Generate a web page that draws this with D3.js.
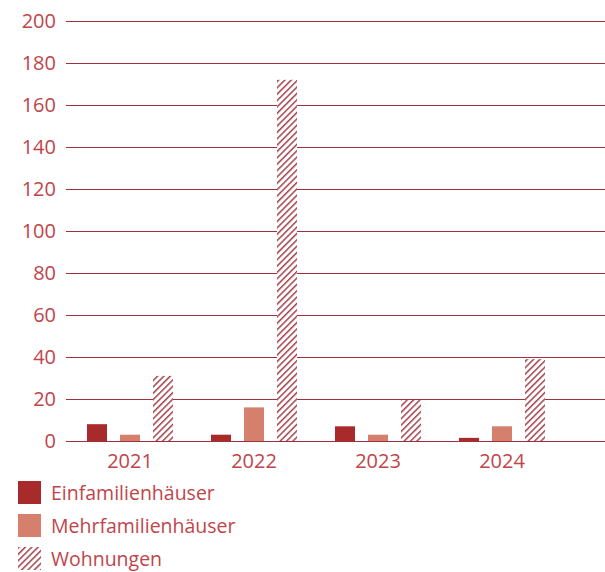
<!DOCTYPE html>
<html>
<head>
<meta charset="utf-8">
<script src="https://cdn.jsdelivr.net/npm/d3@7"></script>
<style>
  body { margin: 0; background: #fff; }
  svg text { font-family: 'Open Sans', 'Liberation Sans', Arial, sans-serif; font-weight: 400; fill: #c0454a; }
</style>
</head>
<body>
<svg id="chart" width="605" height="572"></svg>
<script>
const years = ['2021', '2022', '2023', '2024']
const seriesNames = ['Einfamilienhäuser', 'Mehrfamilienhäuser', 'Wohnungen']
const einfamilien = [8, 3, 7, 1.5]
const mehrfamilien = [3, 16, 3, 7]
const wohnungen = [31, 172, 19.5, 39]
const yTicks = [0, 20, 40, 60, 80, 100, 120, 140, 160, 180, 200]

const colors = ['#a82a2a', '#d4806c', 'url(#hatch)']
const gridColor = '#a2303a'

const svg = d3.select('#chart')

const defs = svg.append('defs')
const pat = defs.append('pattern')
  .attr('id', 'hatch')
  .attr('patternUnits', 'userSpaceOnUse')
  .attr('width', 4.5)
  .attr('height', 4.5)
  .attr('patternTransform', 'rotate(45)')
pat.append('rect').attr('width', 4.5).attr('height', 4.5).attr('fill', '#fff')
pat.append('line')
  .attr('x1', 0).attr('y1', 0).attr('x2', 0).attr('y2', 4.5)
  .attr('stroke', '#a3414b').attr('stroke-width', 3)

const y = d3.scaleLinear().domain([0, 200]).range([441, 21])
const x0 = d3.scaleBand().domain(years).range([68, 564])
const x1 = d3.scaleBand().domain(seriesNames).range([19, 105]).paddingInner(13 / 33).paddingOuter(0)

// gridlines
svg.append('g').selectAll('line')
  .data(yTicks)
  .enter()
  .append('line')
  .attr('x1', 66).attr('x2', 605)
  .attr('y1', d => y(d) + 0.5).attr('y2', d => y(d) + 0.5)
  .attr('stroke', gridColor)
  .attr('stroke-width', 1)

svg.append('g').selectAll('text')
  .data(yTicks)
  .enter()
  .append('text')
  .attr('x', 56)
  .attr('y', d => y(d) + 7)
  .attr('text-anchor', 'end')
  .style('font-size', '20px')
  .text(d => d)

const data = years.map((yr, i) => ({
  year: yr,
  values: [einfamilien[i], mehrfamilien[i], wohnungen[i]]
}))

const groups = svg.append('g').selectAll('g')
  .data(data)
  .enter()
  .append('g')
  .attr('transform', d => `translate(${x0(d.year)},0)`)

groups.selectAll('rect')
  .data(d => d.values.map((v, k) => ({ name: seriesNames[k], value: v, k })))
  .enter()
  .append('rect')
  .attr('x', d => x1(d.name))
  .attr('width', x1.bandwidth())
  .attr('y', d => y(d.value))
  .attr('height', d => y(0) - y(d.value))
  .attr('fill', d => colors[d.k])

// redraw baseline over bars
svg.append('line')
  .attr('x1', 66).attr('x2', 605)
  .attr('y1', y(0) + 0.5).attr('y2', y(0) + 0.5)
  .attr('stroke', gridColor)
  .attr('stroke-width', 1)

svg.append('g').selectAll('text')
  .data(years)
  .enter()
  .append('text')
  .attr('x', d => x0(d) + 62)
  .attr('y', 468)
  .attr('text-anchor', 'middle')
  .style('font-size', '20px')
  .text(d => d)

const legend = svg.append('g').selectAll('g')
  .data(seriesNames)
  .enter()
  .append('g')
  .attr('transform', (d, i) => `translate(18,${481 + i * 33})`)

legend.append('rect')
  .attr('width', 23).attr('height', 23)
  .attr('fill', (d, i) => colors[i])

legend.append('text')
  .attr('x', 33)
  .attr('y', 19)
  .style('font-size', '19.5px')
  .text(d => d)
</script>
</body>
</html>
